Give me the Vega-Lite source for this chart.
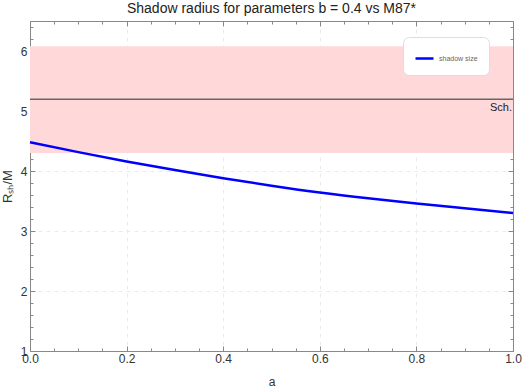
{
  "$schema": "https://vega.github.io/schema/vega-lite/v6.json",
  "width": 483,
  "height": 330,
  "autosize": {"type": "none"},
  "padding": {"left": 30, "top": 21, "right": 10, "bottom": 41},
  "config": {
    "font": "Liberation Sans",
    "view": {"stroke": "#888888", "strokeWidth": 1},
    "axis": {
      "labelFont": "Liberation Sans",
      "titleFont": "Liberation Sans",
      "labelFontSize": 12,
      "labelColor": "#333333",
      "titleColor": "#333333",
      "titleFontWeight": "normal",
      "titleFontSize": 12,
      "domainColor": "#888888",
      "tickColor": "#888888",
      "gridColor": "#ebebeb",
      "gridDash": [4, 4],
      "labelFlush": false,
      "labelOverlap": false
    }
  },
  "title": {
    "text": "Shadow radius for parameters b = 0.4 vs M87*",
    "fontSize": 14,
    "fontWeight": "normal",
    "font": "Liberation Sans",
    "color": "#222222",
    "offset": 5
  },
  "datasets": {
    "band": [{"lo": 4.3, "hi": 6.08}],
    "sch": [{"r": 5.196, "label": "Sch."}],
    "curve": [
      {"a": 0.0, "r": 4.48, "series": "shadow size"},
      {"a": 0.1, "r": 4.315, "series": "shadow size"},
      {"a": 0.2, "r": 4.16, "series": "shadow size"},
      {"a": 0.3, "r": 4.015, "series": "shadow size"},
      {"a": 0.4, "r": 3.88, "series": "shadow size"},
      {"a": 0.5, "r": 3.755, "series": "shadow size"},
      {"a": 0.6, "r": 3.64, "series": "shadow size"},
      {"a": 0.7, "r": 3.545, "series": "shadow size"},
      {"a": 0.8, "r": 3.46, "series": "shadow size"},
      {"a": 0.9, "r": 3.38, "series": "shadow size"},
      {"a": 1.0, "r": 3.3, "series": "shadow size"}
    ]
  },
  "resolve": {"axis": {"x": "independent", "y": "independent"}},
  "layer": [
    {
      "data": {"name": "band"},
      "mark": {"type": "rect", "color": "#ffd9d9"},
      "encoding": {
        "x": {"datum": 0, "type": "quantitative",
          "scale": {"domain": [0, 1], "nice": false, "zero": false},
          "axis": {"orient": "bottom", "values": [0, 0.2, 0.4, 0.6, 0.8, 1.0], "format": ".1f", "tickSize": -5, "labelPadding": 7, "grid": true, "title": "a", "titlePadding": 12}},
        "x2": {"datum": 1},
        "y": {"field": "lo", "type": "quantitative",
          "scale": {"domain": [1, 6.5], "nice": false, "zero": false},
          "axis": {"orient": "left", "values": [1, 2, 3, 4, 5, 6], "tickSize": -5, "labelPadding": 8, "grid": true, "title": "Rₛₕ/M", "titlePadding": 6, "titleFontSize": 13}},
        "y2": {"field": "hi"}
      }
    },
    {
      "data": {"name": "sch"},
      "mark": {"type": "rule", "color": "#666666", "strokeWidth": 1.5},
      "encoding": {
        "x": {"datum": 0, "type": "quantitative",
          "axis": {"orient": "bottom", "values": [0.05, 0.1, 0.15, 0.25, 0.3, 0.35, 0.45, 0.5, 0.55, 0.65, 0.7, 0.75, 0.85, 0.9, 0.95], "tickSize": -3, "labels": false, "domain": false, "grid": false, "title": null}},
        "x2": {"datum": 1},
        "y": {"field": "r", "type": "quantitative",
          "axis": {"orient": "left", "values": [1.2, 1.4, 1.6, 1.8, 2.2, 2.4, 2.6, 2.8, 3.2, 3.4, 3.6, 3.8, 4.2, 4.4, 4.6, 4.8, 5.2, 5.4, 5.6, 5.8, 6.2, 6.4], "tickSize": -3, "labels": false, "domain": false, "grid": false, "title": null}}
      }
    },
    {
      "data": {"name": "curve"},
      "mark": {"type": "line", "strokeWidth": 2.5, "interpolate": "natural"},
      "encoding": {
        "x": {"field": "a", "type": "quantitative",
          "axis": {"orient": "top", "values": [0, 0.2, 0.4, 0.6, 0.8, 1.0], "tickSize": -5, "labels": false, "grid": false, "title": null}},
        "y": {"field": "r", "type": "quantitative",
          "axis": {"orient": "right", "values": [1, 2, 3, 4, 5, 6], "tickSize": -5, "labels": false, "grid": false, "title": null}},
        "color": {"field": "series", "type": "nominal",
          "scale": {"range": ["#0000ff"]},
          "legend": {"orient": "none", "legendX": 373, "legendY": 16, "title": null,
            "symbolType": "stroke", "symbolSize": 324, "symbolStrokeWidth": 2.5,
            "labelFontSize": 7, "labelFont": "Liberation Sans", "labelColor": "#666666",
            "padding": 11, "cornerRadius": 6, "strokeColor": "#dddddd", "fillColor": "#ffffff",
            "labelOffset": 4}}
      }
    },
    {
      "data": {"name": "sch"},
      "mark": {"type": "text", "align": "right", "baseline": "middle", "dy": 9, "dx": -1, "fontSize": 11, "color": "#222222"},
      "encoding": {
        "x": {"datum": 1, "type": "quantitative",
          "axis": {"orient": "top", "values": [0.05, 0.1, 0.15, 0.25, 0.3, 0.35, 0.45, 0.5, 0.55, 0.65, 0.7, 0.75, 0.85, 0.9, 0.95], "tickSize": -3, "labels": false, "domain": false, "grid": false, "title": null}},
        "y": {"field": "r", "type": "quantitative",
          "axis": {"orient": "right", "values": [1.2, 1.4, 1.6, 1.8, 2.2, 2.4, 2.6, 2.8, 3.2, 3.4, 3.6, 3.8, 4.2, 4.4, 4.6, 4.8, 5.2, 5.4, 5.6, 5.8, 6.2, 6.4], "tickSize": -3, "labels": false, "domain": false, "grid": false, "title": null}},
        "text": {"field": "label"}
      }
    }
  ]
}
